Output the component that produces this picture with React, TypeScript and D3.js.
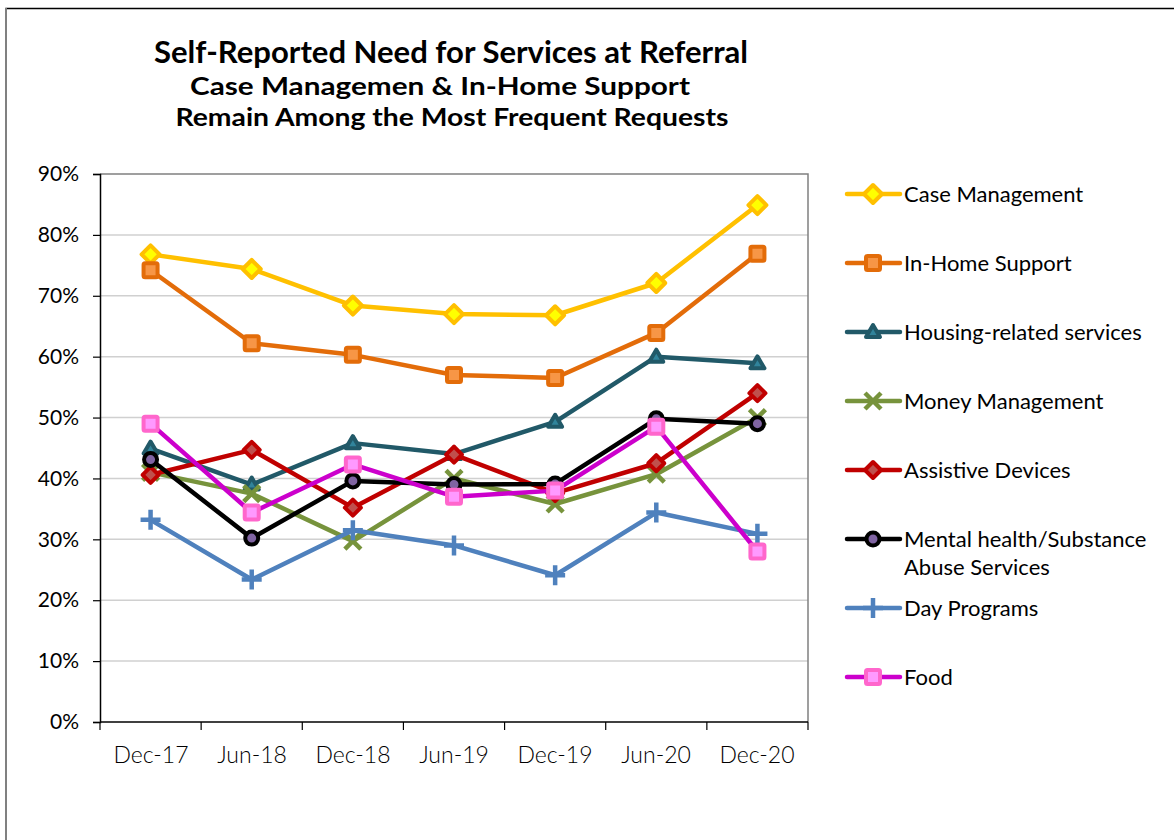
import { useRef, useEffect } from 'react'
import * as d3 from 'd3'

const categories = ['Dec-17', 'Jun-18', 'Dec-18', 'Jun-19', 'Dec-19', 'Jun-20', 'Dec-20']
const seriesNames = [
  'Case Management',
  'In-Home Support',
  'Housing-related services',
  'Money Management',
  'Assistive Devices',
  'Mental health/Substance Abuse Services',
  'Day Programs',
  'Food',
]
const caseManagement = [76.8, 74.4, 68.4, 67.0, 66.8, 72.1, 84.9]
const inHomeSupport = [74.2, 62.2, 60.3, 57.0, 56.5, 63.9, 76.9]
const housingRelated = [44.9, 39.0, 45.8, 44.0, 49.3, 60.0, 58.9]
const moneyManagement = [41.0, 37.5, 29.7, 40.0, 35.8, 40.7, 50.0]
const assistiveDevices = [40.6, 44.7, 35.2, 43.9, 37.6, 42.5, 54.0]
const mentalHealth = [43.1, 30.2, 39.6, 39.0, 39.1, 49.8, 49.0]
const dayPrograms = [33.2, 23.4, 31.5, 29.0, 24.1, 34.4, 30.9]
const food = [49.0, 34.4, 42.3, 37.0, 38.0, 48.5, 28.0]
const yTicks = [0, 10, 20, 30, 40, 50, 60, 70, 80, 90]

const values = [caseManagement, inHomeSupport, housingRelated, moneyManagement, assistiveDevices, mentalHealth, dayPrograms, food]
const lineColors = ['#FFC000', '#E36C09', '#215968', '#77933C', '#C00000', '#000000', '#4F81BD', '#CC00CC']
const markerFill = ['#FFFF00', '#F79646', '#31849B', '#77933C', '#C0504D', '#8064A2', '#4F81BD', '#FF99FF']
const markerStroke = ['#FFC000', '#E36C09', '#215968', '#77933C', '#C00000', '#000000', '#4F81BD', '#FF66CC']
const markerKind = ['diamond', 'square', 'triangle', 'x', 'diamond', 'circle', 'plus', 'square']

const FONT = 'Lato, "Open Sans", sans-serif'

function drawMarker(g: any, kind: string, cx: number, cy: number, i: number) {
  const s = markerStroke[i]
  const f = markerFill[i]
  if (kind === 'diamond') {
    const r = i === 4 ? 8 : 9
    g.append('path')
      .attr('d', `M${cx},${cy - r}L${cx + r},${cy}L${cx},${cy + r}L${cx - r},${cy}Z`)
      .attr('fill', f).attr('stroke', s).attr('stroke-width', 4).attr('stroke-linejoin', 'round')
  } else if (kind === 'square') {
    g.append('rect')
      .attr('x', cx - 7).attr('y', cy - 7).attr('width', 14).attr('height', 14).attr('rx', 1.5)
      .attr('fill', f).attr('stroke', s).attr('stroke-width', 4).attr('stroke-linejoin', 'round')
  } else if (kind === 'triangle') {
    g.append('path')
      .attr('d', `M${cx},${cy - 7}L${cx + 7},${cy + 5}L${cx - 7},${cy + 5}Z`)
      .attr('fill', f).attr('stroke', s).attr('stroke-width', 4).attr('stroke-linejoin', 'round')
  } else if (kind === 'circle') {
    g.append('circle').attr('cx', cx).attr('cy', cy).attr('r', 6.5)
      .attr('fill', f).attr('stroke', s).attr('stroke-width', 4)
  } else if (kind === 'x') {
    const r = 8
    g.append('path')
      .attr('d', `M${cx - r},${cy - r}L${cx + r},${cy + r}M${cx - r},${cy + r}L${cx + r},${cy - r}`)
      .attr('stroke', s).attr('stroke-width', 4.5).attr('fill', 'none')
  } else if (kind === 'plus') {
    const r = 10
    g.append('path')
      .attr('d', `M${cx - r},${cy}L${cx + r},${cy}M${cx},${cy - r}L${cx},${cy + r}`)
      .attr('stroke', s).attr('stroke-width', 4.5).attr('fill', 'none')
  }
}

export default function App() {
  const ref = useRef<SVGSVGElement>(null)

  useEffect(() => {
    if (!ref.current) return
    const svg = d3.select(ref.current)
    svg.selectAll('*').remove()

    const left = 100, right = 808, top = 174, bottom = 722

    // outer frame
    svg.append('path').attr('d', 'M6,1000V8.5H1180').attr('fill', 'none').attr('stroke', '#000').attr('stroke-width', 1.5)
    svg.append('line').attr('x1', 6).attr('x2', 6).attr('y1', 8).attr('y2', 840).attr('stroke', '#808080').attr('stroke-width', 2)

    // title
    const title = svg.append('g').attr('font-family', FONT).attr('font-weight', 700).attr('text-anchor', 'middle').attr('fill', '#000')
    title.append('text').attr('x', 451).attr('y', 63).attr('font-size', 30)
      .attr('textLength', 594).attr('lengthAdjust', 'spacingAndGlyphs').text('Self-Reported Need for Services at Referral')
    title.append('text').attr('x', 440).attr('y', 95).attr('font-size', 25)
      .attr('textLength', 500).attr('lengthAdjust', 'spacingAndGlyphs').text('Case Managemen & In-Home Support')
    title.append('text').attr('x', 452).attr('y', 126).attr('font-size', 25)
      .attr('textLength', 553).attr('lengthAdjust', 'spacingAndGlyphs').text('Remain Among the Most Frequent Requests')

    const x = d3.scaleBand<string>().domain(categories).range([left, right])
    const y = d3.scaleLinear().domain([0, 90]).range([bottom, top])
    const cx = (c: string) => (x(c) as number) + x.bandwidth() / 2

    // gridlines
    svg.append('g').selectAll('line').data(yTicks.filter(t => t > 0 && t < 90)).enter().append('line')
      .attr('x1', left).attr('x2', right).attr('y1', d => y(d)).attr('y2', d => y(d))
      .attr('stroke', '#D0D0D0').attr('stroke-width', 1.5)

    // plot frame top/right
    svg.append('path').attr('d', `M${left},${y(90)}H${right}V${bottom}`).attr('fill', 'none').attr('stroke', '#808080').attr('stroke-width', 1.5)

    // y axis
    const yAxis = svg.append('g').attr('transform', `translate(${left},0)`)
      .call(d3.axisLeft(y).tickValues(yTicks).tickSize(7).tickPadding(14).tickFormat(d => `${d}%`))
    yAxis.select('.domain').attr('stroke', '#000').attr('stroke-width', 1.5)
    yAxis.selectAll('.tick line').attr('stroke', '#000').attr('stroke-width', 1.2)
    yAxis.selectAll('text').attr('font-family', FONT).attr('font-size', 21).attr('font-weight', 400).attr('fill', '#000')

    // x axis
    const xg = svg.append('g')
    xg.append('line').attr('x1', left).attr('x2', right).attr('y1', bottom).attr('y2', bottom).attr('stroke', '#000').attr('stroke-width', 1.5)
    const edges = categories.map(c => x(c) as number).concat([right])
    xg.selectAll('line.t').data(edges).enter().append('line').attr('class', 't')
      .attr('x1', d => d).attr('x2', d => d).attr('y1', bottom).attr('y2', bottom + 8)
      .attr('stroke', '#000').attr('stroke-width', 1.2)
    const xl = svg.append('g').attr('font-family', FONT).attr('font-size', 23).attr('fill', '#000')
      .attr('text-anchor', 'middle').attr('stroke', 'none').attr('font-weight', 300)
    xl.selectAll('text').data(categories).enter().append('text')
      .attr('x', d => Math.round(cx(d))).attr('y', 763)
      .text(d => d)

    // series
    const line = d3.line<number>().x((_, i) => cx(categories[i])).y(d => y(d))
    values.forEach((vals, i) => {
      const g = svg.append('g')
      g.append('path').attr('d', line(vals) as string).attr('fill', 'none')
        .attr('stroke', lineColors[i]).attr('stroke-width', 4.5).attr('stroke-linejoin', 'round')
      vals.forEach((v, j) => drawMarker(g, markerKind[i], cx(categories[j]), y(v), i))
    })

    // legend
    const rowY = [194, 263, 332, 401, 470, 539, 608, 677]
    seriesNames.forEach((name, i) => {
      const g = svg.append('g')
      const ly = rowY[i]
      g.append('line').attr('x1', 847).attr('x2', 900).attr('y1', ly).attr('y2', ly)
        .attr('stroke', lineColors[i]).attr('stroke-width', 4.5).attr('stroke-linecap', 'round')
      drawMarker(g, markerKind[i], 873, ly, i)
      const t = g.append('text').attr('x', 904).attr('y', ly + 8).attr('font-family', FONT).attr('font-size', 22).attr('fill', '#000')
      if (i === 5) {
        t.append('tspan').attr('x', 904).text('Mental health/Substance')
        t.append('tspan').attr('x', 904).attr('dy', 28).text('Abuse Services')
      } else {
        t.text(name)
      }
    })
  }, [])

  return (
    <svg ref={ref} width={1174} height={840} style={{ position: 'absolute', left: 0, top: 0, background: '#fff' }} />
  )
}
